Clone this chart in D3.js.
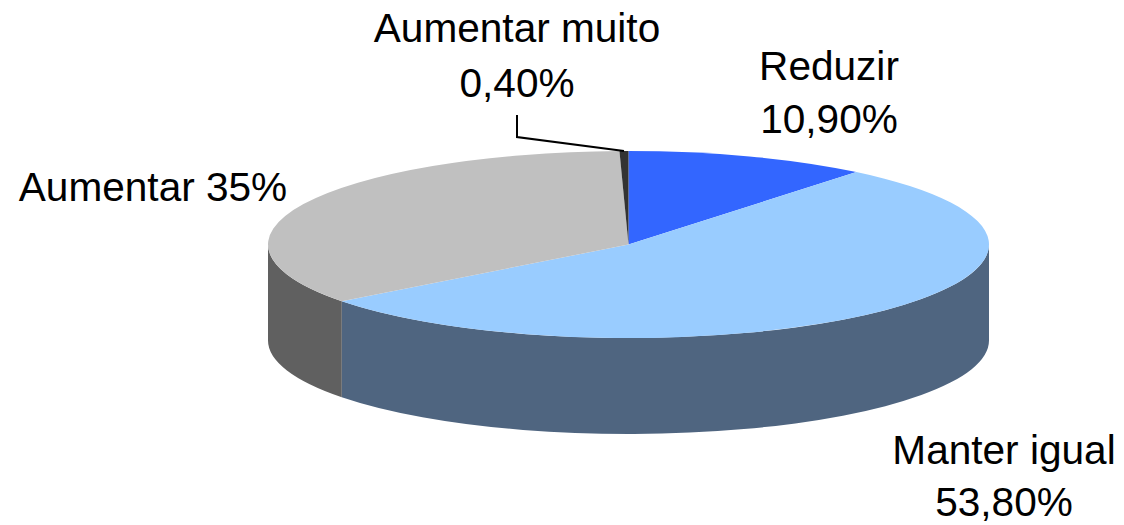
<!DOCTYPE html>
<html>
<head>
<meta charset="utf-8">
<script src="https://cdn.jsdelivr.net/npm/d3@7"></script>
<style>
  html, body { margin: 0; padding: 0; background: #fff; }
  svg { display: block; }
  text { font-family: "Liberation Sans", Arial, sans-serif; font-size: 40.6px; fill: #000; }
</style>
</head>
<body>
<div id="chart"></div>
<script>
// Data
const categories = ['Reduzir', 'Manter igual', 'Aumentar', 'Aumentar muito']
const values = [10.9, 53.8, 35, 0.4]
const valueLabels = ['10,90%', '53,80%', '35%', '0,40%']

// Colours
const topColors = ['#3366ff', '#99ccff', '#c0c0c0', '#333333']
const wallColors = ['#1f3d99', '#4f6580', '#606060', '#1f1f1f']

// Dimensions
const dimensions = { width: 1124, height: 525 }
const cx = 628.5
const cy = 244.5
const rx = 360.5
const ry = 93.5
const depth = 96
const squash = ry / rx

const svg = d3.select('#chart')
  .append('svg')
  .attr('width', dimensions.width)
  .attr('height', dimensions.height)

const pie = d3.pie().sort(null).value(d => d)
const slices = pie(values)

const arc = d3.arc().innerRadius(0).outerRadius(rx)

// the pie is drawn as a circle and squashed into an ellipse
const ctr = svg.append('g')
  .attr('transform', `translate(${cx}, ${cy}) scale(1, ${squash})`)

// Side wall, only the front half (angles between PI/2 and 3PI/2) is visible
const wallPath = d => {
  const a0 = Math.max(d.startAngle, Math.PI / 2) - Math.PI / 2
  const a1 = Math.min(d.endAngle, Math.PI * 1.5) - Math.PI / 2
  if (a1 <= a0) return null
  const drop = depth / squash
  const p = d3.path()
  p.arc(0, 0, rx, a0, a1)
  p.arc(0, drop, rx, a1, a0, true)
  p.closePath()
  return p.toString()
}

ctr.selectAll('path.wall')
  .data(slices)
  .join('path')
  .attr('class', 'wall')
  .attr('d', wallPath)
  .attr('fill', (d, i) => wallColors[i])

// Top face
ctr.selectAll('path.top')
  .data(slices)
  .join('path')
  .attr('class', 'top')
  .attr('d', arc)
  .attr('fill', (d, i) => topColors[i])

// Leader line for the thin slice
const thin = slices[3]
const thinMid = (thin.startAngle + thin.endAngle) / 2
const leaderEnd = [cx + rx * Math.sin(thinMid), cy - ry * Math.cos(thinMid)]
svg.append('path')
  .attr('d', d3.line()([[517, 115], [517, 137], leaderEnd]))
  .attr('fill', 'none')
  .attr('stroke', '#000')
  .attr('stroke-width', 2)

// Labels
const labels = [
  { lines: [categories[0], valueLabels[0]], x: 829, y: [80, 133] },
  { lines: [categories[1], valueLabels[1]], x: 1004, y: [464, 516] },
  { lines: [`${categories[2]} ${valueLabels[2]}`], x: 153, y: [201] },
  { lines: [categories[3], valueLabels[3]], x: 517, y: [42, 97] },
]

labels.forEach(l => {
  l.lines.forEach((line, i) => {
    svg.append('text')
      .attr('x', l.x)
      .attr('y', l.y[i])
      .attr('text-anchor', 'middle')
      .text(line)
  })
})
</script>
</body>
</html>
